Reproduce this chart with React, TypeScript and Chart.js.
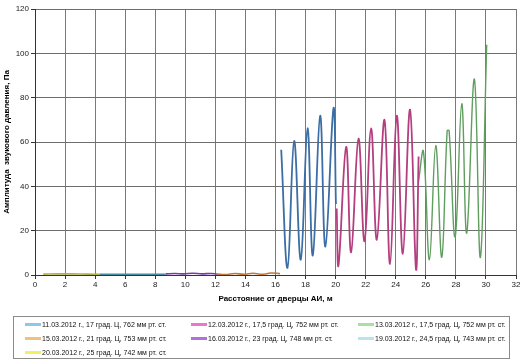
import React, { useEffect, useRef } from "react";
import { Chart, registerables } from "chart.js";

Chart.register(...registerables);

const xTicks = [0, 2, 4, 6, 8, 10, 12, 14, 16, 18, 20, 22, 24, 26, 28, 30, 32];
const yTicks = [0, 20, 40, 60, 80, 100, 120];

const seriesLabels = [
  "11.03.2012 г., 17 град. Ц, 762 мм рт. ст.",
  "12.03.2012 г., 17,5 град. Ц, 752 мм рт. ст.",
  "13.03.2012 г., 17,5 град. Ц, 752 мм рт. ст.",
  "15.03.2012 г., 21 град. Ц, 753 мм рт. ст.",
  "16.03.2012 г., 23 град. Ц, 748 мм рт. ст.",
  "19.03.2012 г., 24,5 град. Ц, 743 мм рт. ст.",
  "20.03.2012 г., 25 град. Ц, 742 мм рт. ст.",
];

// 11.03
const x1103 = [16.38, 16.8, 17.24, 17.68, 18.13, 18.48, 18.97, 19.32, 19.86, 20.02];
const y1103 = [56.5, 3.2, 60.5, 6.9, 66.2, 8.8, 71.9, 12.8, 75.3, 32];
// 12.03
const x1203 = [20.07, 20.19, 20.7, 21.03, 21.52, 21.92, 22.36, 22.74, 23.25, 23.62, 24.07, 24.47, 24.95, 25.35, 25.52];
const y1203 = [30, 4.3, 57.8, 10.2, 61.5, 15.2, 66.1, 15.9, 70, 5, 71.9, 9.6, 74.6, 2.4, 53.5];
// 13.03
const x1303 = [25.5, 25.84, 26.24, 26.66, 27.06, 27.42, 27.55, 27.95, 28.39, 28.72, 29.23, 29.63, 30.05];
const y1303 = [41.5, 55.8, 6.9, 58.4, 8, 65.1, 65.1, 17.2, 77.3, 18.9, 88.4, 7.9, 103.9];
// 15.03
const x1503 = [12.1, 12.7, 13.3, 13.9, 14.5, 15.1, 15.7, 16.3];
const y1503 = [0.4, 0.2, 0.7, 0.3, 0.8, 0.3, 0.9, 0.6];
// 16.03
const x1603 = [8.7, 9.3, 9.9, 10.5, 11.1, 11.7, 12.1];
const y1603 = [0.5, 0.7, 0.5, 0.8, 0.5, 0.7, 0.4];
// 19.03
const x1903 = [4.3, 5.5, 6.5, 7.5, 8.7];
const y1903 = [0.3, 0.3, 0.3, 0.3, 0.3];
// 20.03
const x2003 = [0.55, 1.5, 2.5, 3.5, 4.3];
const y2003 = [0.4, 0.5, 0.5, 0.4, 0.3];

const seriesX = [x1103, x1203, x1303, x1503, x1603, x1903, x2003];
const seriesY = [y1103, y1203, y1303, y1503, y1603, y1903, y2003];
const lineColors = ["#3b6ea5", "#b43f80", "#5f9e5f", "#c0783a", "#7a3aa8", "#4a8ca0", "#b0b040"];
const legendColors = ["#8cc8ea", "#e878c8", "#a8e0a0", "#f0c080", "#b070e0", "#b8e4f0", "#f0f060"];
const lineWidths = [1.8, 1.8, 1.4, 1.6, 1.6, 1.6, 1.6];

const FONT = "'Liberation Sans', Arial, sans-serif";

export default function App() {
  const ref = useRef<HTMLCanvasElement>(null);

  useEffect(() => {
    const datasets = seriesX.map((xs, i) => ({
      label: seriesLabels[i],
      data: xs.map((x, j) => ({ x, y: seriesY[i][j] })),
      borderColor: lineColors[i],
      backgroundColor: lineColors[i],
      borderWidth: lineWidths[i],
      pointRadius: 0,
      tension: 0.4,
      fill: false,
    }));
    const chart = new Chart(ref.current!, {
      type: "line",
      data: { datasets },
      options: {
        animation: false,
        responsive: false,
        layout: { padding: { left: 0, right: 8, top: 9, bottom: 60 } },
        plugins: { legend: { display: false }, tooltip: { enabled: false } },
        scales: {
          x: {
            type: "linear",
            min: 0,
            max: 32,
            afterBuildTicks: (s: any) => {
              s.ticks = xTicks.map((v) => ({ value: v }));
            },
            afterFit: (s: any) => {
              s.height = 29;
            },
            ticks: { color: "#222", font: { family: FONT, size: 8 }, padding: 1, maxRotation: 0 },
            grid: { color: "#7a7a7a", lineWidth: 1, tickLength: 4, tickColor: "#333" },
            border: { color: "#333", width: 1 },
            title: {
              display: true,
              text: "Расстояние от дверцы АИ, м",
              color: "#000",
              font: { family: FONT, size: 8, weight: "bold" },
              padding: { top: 2, bottom: 0 },
            },
          },
          y: {
            type: "linear",
            min: 0,
            max: 120,
            afterBuildTicks: (s: any) => {
              s.ticks = yTicks.map((v) => ({ value: v }));
            },
            afterFit: (s: any) => {
              s.width = 35;
            },
            ticks: { color: "#222", font: { family: FONT, size: 8 }, padding: 2 },
            grid: { color: "#6e6e6e", lineWidth: 1, tickLength: 4, tickColor: "#333" },
            border: { color: "#333", width: 1 },
            title: {
              display: true,
              text: "Амплитуда  звукового давления, Па",
              color: "#000",
              font: { family: FONT, size: 8, weight: "bold" },
              padding: { top: 2, bottom: 0 },
            },
          },
        },
      },
    });
    return () => chart.destroy();
  }, []);

  const order = [0, 1, 2, 3, 4, 5, 6];

  return (
    <div style={{ position: "fixed", left: 0, top: 0, width: 524, height: 364, background: "#fff" }}>
      <canvas ref={ref} width={524} height={364} style={{ position: "absolute", left: 0, top: 0 }} />
      <div
        style={{
          position: "absolute",
          left: 13,
          top: 316,
          width: 497,
          height: 43,
          border: "1px solid #8a8a8a",
          boxSizing: "border-box",
          display: "grid",
          gridTemplateColumns: "166px 167px 164px",
          gridAutoRows: "14px",
          paddingTop: 0,
          fontFamily: FONT,
          fontSize: 7,
          color: "#111",
        }}
      >
        {order.map((i) => (
          <div key={i} style={{ display: "flex", alignItems: "center", paddingLeft: 11, whiteSpace: "nowrap" }}>
            <span
              style={{
                display: "inline-block",
                width: 16,
                height: 3,
                background: legendColors[i],
                marginRight: 1,
              }}
            />
            <span>{seriesLabels[i]}</span>
          </div>
        ))}
      </div>
    </div>
  );
}
